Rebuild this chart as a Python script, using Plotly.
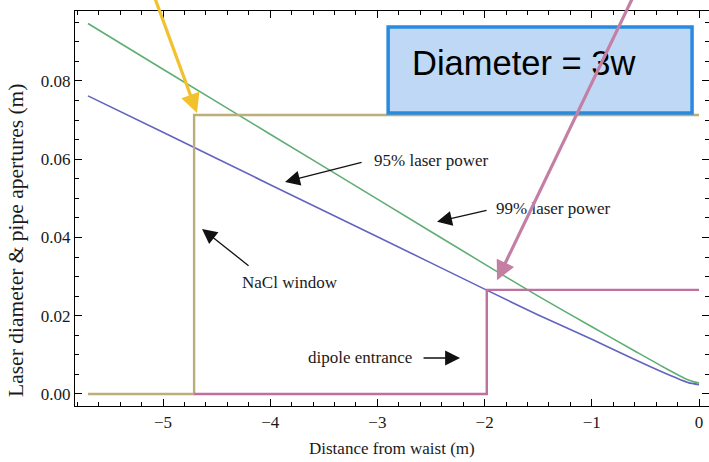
import plotly.graph_objects as go

# Distance from the beam waist (m)
dist_m = [-5.70, -5.0, -4.0, -3.0, -2.0, -1.5, -1.0, -0.6, -0.3, -0.1, 0.0]
# Beam diameter enclosing 99% / 95% of the laser power (m)
diam_99 = [0.0947, 0.0830, 0.0664, 0.0498, 0.0332, 0.0250, 0.0172, 0.0110, 0.0064, 0.0036, 0.0028]
diam_95 = [0.0762, 0.0669, 0.0535, 0.0402, 0.0268, 0.0202, 0.0140, 0.0088, 0.0051, 0.0029, 0.0024]

# Pipe apertures along the beam line (m)
nacl_x = [-5.70, -4.71, -4.71, 0.0]
nacl_y = [0.0, 0.0, 0.0713, 0.0713]
dipole_x = [-4.71, -1.98, -1.98, 0.0]
dipole_y = [0.0, 0.0, 0.0266, 0.0266]

x_ticks = [-5, -4, -3, -2, -1, 0]
y_ticks = [0.00, 0.02, 0.04, 0.06, 0.08]

SERIF = "Liberation Serif"
TXT = "#1a1a1a"

fig = go.Figure()
fig.add_trace(go.Scatter(x=dist_m, y=diam_95, mode="lines",
                         line=dict(color="#6363c0", width=1.6, shape="spline", smoothing=0.6)))
fig.add_trace(go.Scatter(x=dist_m, y=diam_99, mode="lines",
                         line=dict(color="#5fae73", width=1.6, shape="spline", smoothing=0.6)))
fig.add_trace(go.Scatter(x=nacl_x, y=nacl_y, mode="lines",
                         line=dict(color="#bcae78", width=2.4)))
fig.add_trace(go.Scatter(x=dipole_x, y=dipole_y, mode="lines",
                         line=dict(color="#c0709e", width=2.4)))

# Highlight box
fig.add_shape(type="rect", xref="x", yref="y",
              x0=-2.90, x1=-0.065, y0=0.0718, y1=0.0938,
              fillcolor="#bed8f5", line=dict(color="#2a8ae0", width=3.5), layer="above")

annotations = [
    dict(x=-1.64, y=0.0846, text="Diameter = 3w", showarrow=False,
         font=dict(family="Liberation Sans", size=34.5, color="#000000")),
    # Labels
    dict(x=-2.491, y=0.0598, text="95% laser power", showarrow=False,
         font=dict(family=SERIF, size=17, color=TXT)),
    dict(x=-1.362, y=0.0475, text="99% laser power", showarrow=False,
         font=dict(family=SERIF, size=17, color=TXT)),
    dict(x=-3.815, y=0.0286, text="NaCl window", showarrow=False,
         font=dict(family=SERIF, size=17, color=TXT)),
    dict(x=-3.162, y=0.0092, text="dipole entrance", showarrow=False,
         font=dict(family=SERIF, size=17, color=TXT)),
]

# Black pointer arrows (tip, tail) in data coordinates
pointers = [
    ((-3.862, 0.0542), (-3.134, 0.0593)),
    ((-2.444, 0.0440), (-1.968, 0.0470)),
    ((-4.636, 0.0422), (-4.188, 0.0325)),
    ((-2.229, 0.0092), (-2.584, 0.0092)),
]
for (tx, ty), (sx, sy) in pointers:
    annotations.append(dict(x=tx, y=ty, ax=sx, ay=sy, xref="x", yref="y",
                            axref="x", ayref="y", text="", showarrow=True,
                            arrowhead=2, arrowsize=2.3, arrowwidth=1.3,
                            arrowcolor="#111111"))

# Coloured call-out arrows
annotations.append(dict(x=-4.683, y=0.0718, ax=-5.10, ay=0.1030, xref="x", yref="y",
                        axref="x", ayref="y", text="", showarrow=True,
                        arrowhead=2, arrowsize=1.2, arrowwidth=3.2, arrowcolor="#f2c12e"))
annotations.append(dict(x=-1.884, y=0.0291, ax=-0.606, ay=0.1020, xref="x", yref="y",
                        axref="x", ayref="y", text="", showarrow=True,
                        arrowhead=2, arrowsize=1.2, arrowwidth=3.2, arrowcolor="#c47fa5"))

# Axis titles
annotations.append(dict(xref="paper", yref="paper", x=0.5, y=-0.108, yanchor="middle",
                        xanchor="center", text="Distance from waist (m)", showarrow=False,
                        font=dict(family=SERIF, size=17, color=TXT)))
annotations.append(dict(xref="paper", yref="paper", x=-0.093, y=0.418, textangle=-90,
                        xanchor="center", yanchor="middle",
                        text="Laser diameter &amp; pipe apertures (m)", showarrow=False,
                        font=dict(family=SERIF, size=21.5, color=TXT)))

fig.update_layout(
    width=709, height=462,
    margin=dict(l=75, r=0, t=11, b=56),
    paper_bgcolor="white", plot_bgcolor="white",
    showlegend=False,
    annotations=annotations,
    font=dict(family=SERIF, size=17, color=TXT),
)
fig.update_xaxes(range=[-5.821, 0.093], tickvals=x_ticks, ticks="inside", ticklen=7,
                 tickwidth=1, tickcolor="#000", showline=True, linecolor="#000", linewidth=1.2,
                 mirror="allticks", showgrid=False, zeroline=False,
                 minor=dict(ticks="inside", ticklen=4, dtick=0.2, tickcolor="#000"),
                 tickfont=dict(family=SERIF, size=17, color=TXT))
fig.update_yaxes(range=[-0.00307, 0.09789], tickvals=y_ticks, tickformat=".2f",
                 ticks="inside", ticklen=7, tickwidth=1, tickcolor="#000",
                 showline=True, linecolor="#000", linewidth=1.2, mirror="allticks",
                 showgrid=False, zeroline=False,
                 minor=dict(ticks="inside", ticklen=4, dtick=0.005, tickcolor="#000"),
                 tickfont=dict(family=SERIF, size=17, color=TXT))

fig.write_html("out.html")
